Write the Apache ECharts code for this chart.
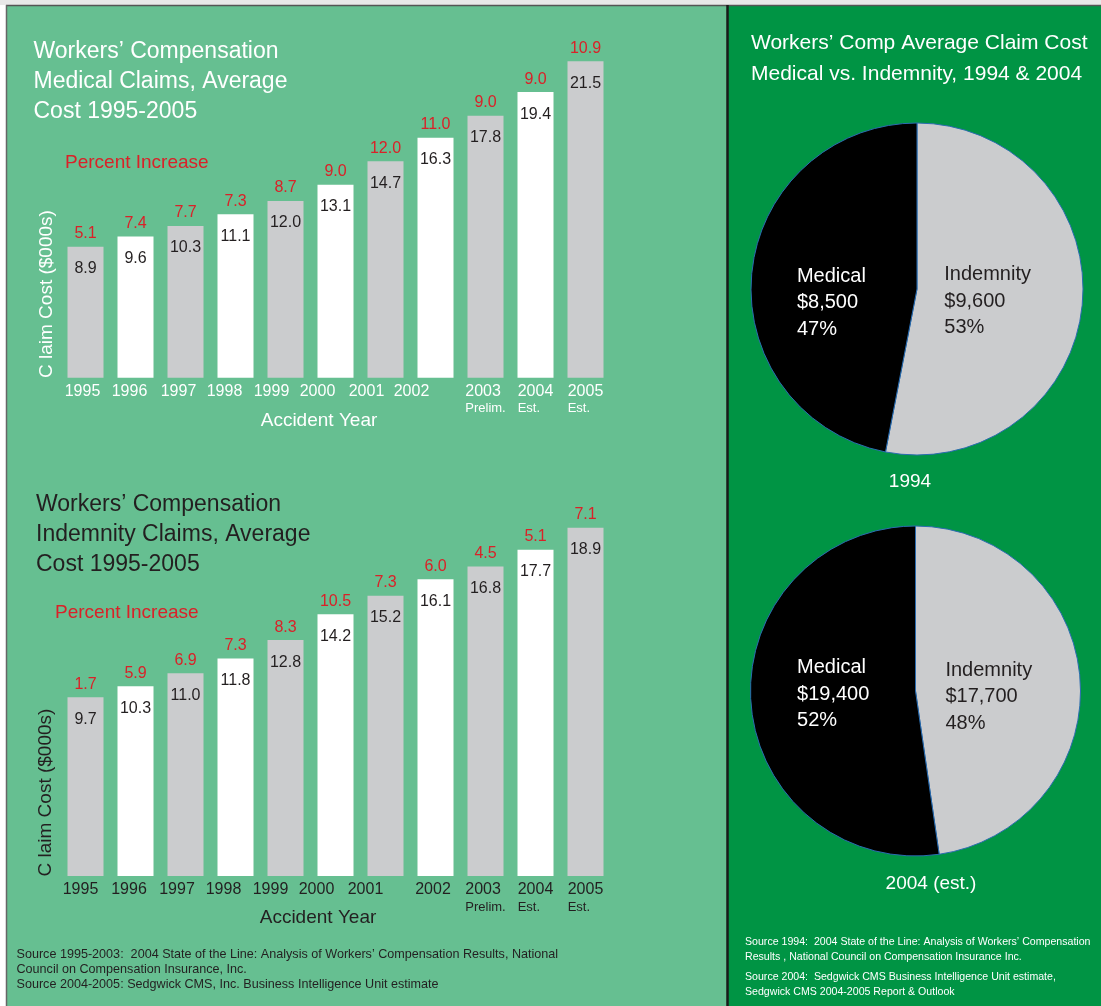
<!DOCTYPE html>
<html><head><meta charset="utf-8">
<script src="https://cdn.jsdelivr.net/npm/echarts@6/dist/echarts.min.js"></script>
<style>html,body{margin:0;padding:0;background:#fff}#c{width:1101px;height:1006px}</style>
</head><body><div id="c"></div>
<script>
// ---- data ----
const years = ['1995','1996','1997','1998','1999','2000','2001','2002','2003','2004','2005'];
const yearNotes = ['','','','','','','','','Prelim.','Est.','Est.'];
const medicalCost = [8.9, 9.6, 10.3, 11.1, 12.0, 13.1, 14.7, 16.3, 17.8, 19.4, 21.5];
const medicalPct = [5.1, 7.4, 7.7, 7.3, 8.7, 9.0, 12.0, 11.0, 9.0, 9.0, 10.9];
const indemnityCost = [9.7, 10.3, 11.0, 11.8, 12.8, 14.2, 15.2, 16.1, 16.8, 17.7, 18.9];
const indemnityPct = [1.7, 5.9, 6.9, 7.3, 8.3, 10.5, 7.3, 6.0, 4.5, 5.1, 7.1];
const pieNames = ['Indemnity', 'Medical'];
const pie1994 = [9600, 8500];
const pie2004 = [17700, 19400];

// ---- styles ----
const FF = "'Liberation Sans', Arial, sans-serif";
const RED = '#DA2128';
const DARK = '#231F20';
const LIGHT_BG = '#66BF91';
const DARK_BG = '#009444';
const GRAY = '#CBCCCE';
const shiftTop = [-3, -6, -7, -11, -14, -18, -19, -24, 0, 0, 0];
const shiftBot = [-5, -6.5, -8.5, -12, -15, -19, -20, -2.5, 0, 0, 0];
// label nudges for pie labels [Indemnity, Medical]
const pieNudge1994 = [[-15, 4], [0, 22]];
const pieNudge2004 = [[-12, 12], [3, -3]];

function xRich(color, shifts) {
  const r = {};
  years.forEach((y, i) => {
    r['y' + i] = {color, fontSize: 16, fontFamily: FF, lineHeight: 18, align: 'left',
      padding: [0, Math.max(0, -2 * shifts[i]), 0, 0]};
  });
  r.s = {color, fontSize: 13, fontFamily: FF, lineHeight: 16, align: 'left'};
  return r;
}
function xAxis(gi, color, shifts) {
  return {
    type: 'category', gridIndex: gi, data: years,
    axisLine: {show: false}, axisTick: {show: false}, splitLine: {show: false},
    axisLabel: {
      interval: 0, margin: 5, color, fontFamily: FF, fontSize: 16,
      formatter: (v, i) => '{y' + i + '|' + v + '}' + (yearNotes[i] ? '\n{s|' + yearNotes[i] + '}' : ''),
      rich: xRich(color, shifts)
    }
  };
}
function yAxis(gi, max) {
  return {type: 'value', gridIndex: gi, min: 0, max, show: false, splitLine: {show: false}};
}
function bars(gi, values, pcts) {
  return [{
    type: 'bar', xAxisIndex: gi, yAxisIndex: gi, data: values, barWidth: 36, silent: true,
    itemStyle: {color: p => (p.dataIndex % 2 ? '#FFFFFF' : GRAY)},
    label: {show: true, position: 'insideTop', distance: 14, color: DARK, fontSize: 16, fontFamily: FF,
      formatter: p => p.value.toFixed(1)}
  }, {
    type: 'bar', xAxisIndex: gi, yAxisIndex: gi, data: values, barWidth: 36, barGap: '-100%', silent: true,
    itemStyle: {color: 'rgba(0,0,0,0)'},
    label: {show: true, position: 'top', distance: 5, color: RED, fontSize: 16, fontFamily: FF,
      formatter: p => pcts[p.dataIndex].toFixed(1)}
  }];
}
function pie(center, radius, values, nudge) {
  return {
    type: 'pie', center, radius, startAngle: 90, clockwise: true, silent: true,
    avoidLabelOverlap: false, labelLine: {show: false},
    itemStyle: {borderColor: '#2B6CB0', borderWidth: 1},
    data: pieNames.map((n, i) => ({name: n, value: values[i],
      itemStyle: {color: n === 'Medical' ? '#000000' : GRAY}})),
    labelLayout: p => ({dx: nudge[p.dataIndex][0], dy: nudge[p.dataIndex][1]}),
    label: {
      show: true, position: 'inside',
      formatter: p => {
        const k = p.name === 'Medical' ? 'w' : 'k';
        return '{' + k + '|' + p.name + '}\n{' + k + '|$' + p.value.toLocaleString('en-US') + '}\n{' + k + '|' + Math.round(p.percent) + '%}';
      },
      rich: {
        w: {color: '#FFFFFF', fontSize: 20, fontFamily: FF, lineHeight: 26.5, align: 'left'},
        k: {color: DARK, fontSize: 20, fontFamily: FF, lineHeight: 26.5, align: 'left'}
      }
    }
  };
}
function txt(x, y, text, size, color, extra) {
  return Object.assign({type: 'text', x, y, silent: true,
    style: {text, fill: color, fontSize: size, fontFamily: FF, align: 'left', verticalAlign: 'middle'}}, extra || {});
}
function ctxt(x, y, text, size, color) {
  return {type: 'text', x, y, silent: true,
    style: {text, fill: color, fontSize: size, fontFamily: FF, align: 'center', verticalAlign: 'middle'}};
}
function block(x, y, text, size, color, lh) {
  return {type: 'text', x, y, silent: true,
    style: {text, fill: color, fontSize: size, fontFamily: FF, lineHeight: lh, align: 'left', verticalAlign: 'top'}};
}

const chart = echarts.init(document.getElementById('c'), null, {renderer: 'canvas'});
chart.setOption({
  animation: false,
  backgroundColor: '#FFFFFF',
  grid: [
    {left: 60.5, width: 550, top: 24.4, height: 353.3},
    {left: 60.5, width: 550, top: 507.4, height: 368.6}
  ],
  xAxis: [xAxis(0, '#FFFFFF', shiftTop), xAxis(1, DARK, shiftBot)],
  yAxis: [yAxis(0, 24), yAxis(1, 20)],
  series: [
    ...bars(0, medicalCost, medicalPct),
    ...bars(1, indemnityCost, indemnityPct),
    pie([917, 289], 166, pie1994, pieNudge1994),
    pie([915.5, 691], 165, pie2004, pieNudge2004)
  ],
  graphic: [
    {type: 'rect', z: -10, silent: true, shape: {x: 0, y: 0, width: 1101, height: 5}, style: {fill: '#E8E8E8'}},
    {type: 'rect', z: -10, silent: true, shape: {x: 7, y: 5, width: 720, height: 1001}, style: {fill: LIGHT_BG}},
    {type: 'rect', z: -10, silent: true, shape: {x: 728, y: 5, width: 373, height: 1001}, style: {fill: DARK_BG}},
    {type: 'line', z: -9, silent: true, shape: {x1: 6, y1: 5.5, x2: 1101, y2: 5.5}, style: {stroke: '#555', lineWidth: 1.5}},
    {type: 'line', z: -9, silent: true, shape: {x1: 6.5, y1: 5, x2: 6.5, y2: 1006}, style: {stroke: '#666', lineWidth: 1.5}},
    {type: 'line', z: -9, silent: true, shape: {x1: 727.5, y1: 5, x2: 727.5, y2: 1006}, style: {stroke: '#1A1A1A', lineWidth: 2.5}},

    block(33.5, 36.5, 'Workers\u2019 Compensation\nMedical Claims, Average\nCost 1995-2005', 23, '#FFFFFF', 30),
    txt(65, 163, 'Percent Increase', 19, RED),
    ctxt(319, 420.5, 'Accident Year', 19, '#FFFFFF'),
    txt(47, 378, 'C laim Cost ($000s)', 19, '#FFFFFF', {rotation: Math.PI / 2}),

    block(36, 490, 'Workers\u2019 Compensation\nIndemnity Claims, Average\nCost 1995-2005', 23, DARK, 30),
    txt(55, 613, 'Percent Increase', 19, RED),
    ctxt(318, 917.5, 'Accident Year', 19, DARK),
    txt(45.5, 876.5, 'C laim Cost ($000s)', 19, DARK, {rotation: Math.PI / 2}),

    txt(16.5, 955, 'Source 1995-2003:  2004 State of the Line: Analysis of Workers\u2019 Compensation Results, National', 12.6, DARK),
    txt(16.5, 970, 'Council on Compensation Insurance, Inc.', 12.6, DARK),
    txt(16.5, 985, 'Source 2004-2005: Sedgwick CMS, Inc. Business Intelligence Unit estimate', 12.6, DARK),

    txt(751, 43, 'Workers\u2019 Comp Average Claim Cost', 21, '#FFFFFF'),
    txt(751, 74, 'Medical vs. Indemnity, 1994 & 2004', 21, '#FFFFFF'),
    ctxt(910, 482, '1994', 19, '#FFFFFF'),
    ctxt(931, 884, '2004 (est.)', 19, '#FFFFFF'),
    txt(745, 942.5, 'Source 1994:  2004 State of the Line: Analysis of Workers\u2019 Compensation', 10.6, '#FFFFFF'),
    txt(745, 957.5, 'Results , National Council on Compensation Insurance Inc.', 10.6, '#FFFFFF'),
    txt(745, 977.5, 'Source 2004:  Sedgwick CMS Business Intelligence Unit estimate,', 10.6, '#FFFFFF'),
    txt(745, 992.5, 'Sedgwick CMS 2004-2005 Report & Outlook', 10.6, '#FFFFFF')
  ]
});
</script>
</body></html>
